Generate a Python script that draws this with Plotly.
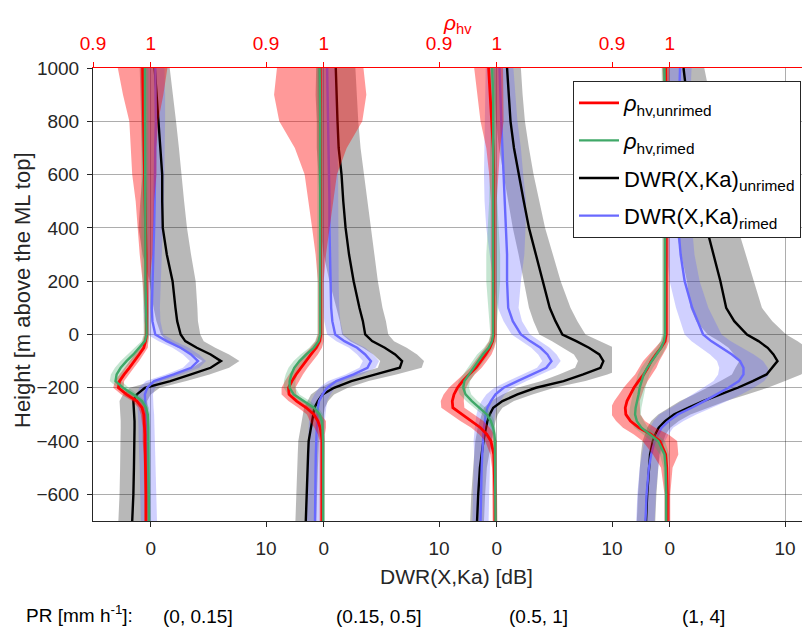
import plotly.graph_objects as go

# ---------------- data ----------------
H = [1000, 900, 800, 700, 600, 500, 400, 300, 200, 100, 50, 0, -25, -50, -75, -100,
     -125, -150, -175, -200, -225, -250, -275, -300, -325, -350, -375, -400, -450, -500, -600, -700]

PR_LABELS = ["(0, 0.15]", "(0.15, 0.5]", "(0.5, 1]", "(1, 4]"]

DWR_UNRIMED = [
    [0.35, 0.5, 0.7, 0.85, 1.0, 1.0, 1.05, 1.4, 1.9, 2.15, 2.3, 2.6, 3.0, 4.0, 5.2, 6.1,
     5.2, 3.5, 1.7, -0.5, -1.2, -1.5, -1.45, -1.4, -1.4, -1.4, -1.4, -1.4, -1.45, -1.45, -1.5, -1.6],
    [1.05, 1.1, 1.2, 1.3, 1.55, 1.7, 1.9, 2.2, 2.6, 3.1, 3.4, 3.6, 4.2, 5.3, 6.2, 6.8,
     6.6, 4.5, 2.4, 0.9, -0.1, -0.5, -0.8, -0.9, -1.0, -1.1, -1.2, -1.3, -1.35, -1.4, -1.5, -1.55],
    [0.9, 1.05, 1.2, 1.5, 1.9, 2.35, 2.8, 3.4, 3.95, 4.6, 5.1, 5.7, 6.9, 8.0, 8.9, 9.25,
     9.0, 7.5, 5.8, 3.4, 1.8, 0.5, -0.3, -0.6, -0.8, -0.95, -1.05, -1.15, -1.3, -1.45, -1.6, -1.7],
    [1.2, 1.45, 1.75, 2.1, 2.5, 2.85, 3.2, 3.8, 4.4, 4.9, 5.6, 6.7, 7.7, 8.5, 9.0, 9.35,
     8.9, 8.4, 7.2, 5.9, 4.4, 2.9, 1.6, 0.4, -0.4, -0.95, -1.25, -1.45, -1.7, -1.8, -1.95, -2.05],
]
DWR_UNRIMED_SPREAD = [
    [1.3, 1.4, 1.5, 1.6, 1.7, 1.9, 2.1, 2.1, 2.0, 1.9, 1.8, 1.7, 1.6, 1.6, 1.6, 1.6,
     1.6, 1.6, 1.4, 1.3, 1.2, 1.2, 1.2, 1.2, 1.2, 1.2, 1.2, 1.2, 1.2, 1.2, 1.2, 1.2],
    [1.7, 1.8, 1.8, 1.9, 2.0, 2.1, 2.2, 2.2, 2.1, 2.0, 2.0, 2.0, 1.9, 1.9, 1.9, 1.9,
     1.9, 1.8, 1.5, 1.2, 1.0, 0.9, 0.9, 0.9, 0.9, 0.9, 0.9, 0.9, 0.9, 0.9, 0.9, 0.9],
    [1.2, 1.2, 1.25, 1.3, 1.3, 1.35, 1.4, 1.5, 1.6, 1.8, 1.9, 2.0, 2.1, 2.2, 2.2, 2.2,
     2.2, 2.1, 1.9, 1.6, 1.3, 1.0, 0.8, 0.7, 0.7, 0.7, 0.7, 0.7, 0.65, 0.6, 0.6, 0.6],
    [1.8, 2.0, 2.2, 2.3, 2.5, 2.6, 2.7, 2.8, 2.9, 3.1, 3.3, 3.4, 3.4, 3.4, 3.4, 3.3,
     3.2, 3.0, 2.8, 2.6, 2.3, 2.0, 1.7, 1.4, 1.2, 1.0, 0.9, 0.9, 0.8, 0.8, 0.8, 0.8],
]
DWR_RIMED = [
    [0.4, 0.45, 0.45, 0.4, 0.4, 0.35, 0.3, 0.25, 0.17, 0.1, 0.15, 0.4, 1.4, 2.6, 3.5, 4.1,
     3.5, 2.0, 0.3, -0.3, -0.5, -0.5, -0.45, -0.4, -0.35, -0.35, -0.35, -0.35, -0.3, -0.25, -0.2, -0.15],
    [0.3, 0.35, 0.4, 0.4, 0.45, 0.5, 0.5, 0.55, 0.6, 0.65, 0.75, 1.0, 1.8, 2.9, 3.6, 4.1,
     3.8, 2.6, 1.1, 0.3, -0.1, -0.4, -0.5, -0.55, -0.6, -0.6, -0.62, -0.65, -0.68, -0.7, -0.72, -0.75],
    [0.25, 0.3, 0.4, 0.5, 0.6, 0.75, 0.8, 0.9, 0.9, 1.0, 1.4, 2.1, 2.9, 3.8, 4.4, 4.75,
     4.3, 3.0, 1.8, 0.6, -0.1, -0.5, -0.8, -0.95, -1.05, -1.1, -1.15, -1.2, -1.25, -1.3, -1.35, -1.4],
    [0.9, 0.8, 0.75, 0.7, 0.7, 0.75, 0.75, 0.95, 1.3, 1.95, 2.4, 2.9, 3.6, 4.5, 5.4, 6.1,
     6.4, 6.4, 6.0, 5.1, 4.1, 3.0, 1.9, 0.7, -0.1, -0.7, -1.0, -1.3, -1.6, -1.8, -2.0, -2.1],
]
DWR_RIMED_SPREAD = [
    [0.8, 0.8, 0.8, 0.8, 0.8, 0.8, 0.75, 0.7, 0.7, 0.7, 0.7, 0.7, 0.7, 0.7, 0.7, 0.7,
     0.7, 0.7, 0.7, 0.7, 0.7, 0.7, 0.7, 0.7, 0.7, 0.7, 0.7, 0.7, 0.7, 0.7, 0.7, 0.7],
    [0.8, 0.8, 0.8, 0.8, 0.8, 0.8, 0.75, 0.75, 0.7, 0.7, 0.7, 0.7, 0.7, 0.7, 0.7, 0.7,
     0.7, 0.7, 0.7, 0.7, 0.7, 0.7, 0.7, 0.7, 0.7, 0.7, 0.7, 0.7, 0.7, 0.7, 0.7, 0.7],
    [1.2, 1.3, 1.4, 1.6, 1.7, 1.8, 1.7, 1.5, 1.2, 0.9, 0.8, 0.8, 0.8, 0.8, 0.8, 0.8,
     0.8, 0.8, 0.8, 0.8, 0.8, 0.8, 0.8, 0.8, 0.8, 0.8, 0.8, 0.8, 0.7, 0.7, 0.7, 0.7],
    [1.0, 1.0, 1.1, 1.1, 1.2, 1.2, 1.2, 1.2, 1.3, 1.4, 1.5, 1.6, 1.7, 1.8, 1.9, 2.0,
     2.1, 2.2, 2.2, 2.2, 2.1, 2.0, 1.8, 1.6, 1.3, 1.0, 0.9, 0.9, 0.8, 0.8, 0.8, 0.8],
]
RHO_UNRIMED = [
    [0.986, 0.987, 0.988, 0.988, 0.989, 0.990, 0.991, 0.992, 0.992, 0.993, 0.993, 0.993, 0.991, 0.988, 0.980, 0.972,
     0.963, 0.954, 0.946, 0.944, 0.958, 0.976, 0.985, 0.988, 0.989, 0.990, 0.990, 0.990, 0.991, 0.991, 0.992, 0.992],
    [0.994, 0.994, 0.995, 0.995, 0.995, 0.995, 0.995, 0.995, 0.995, 0.995, 0.995, 0.995, 0.993, 0.987, 0.978, 0.969,
     0.960, 0.952, 0.945, 0.939, 0.940, 0.953, 0.970, 0.983, 0.990, 0.994, 0.996, 0.997, 0.997, 0.997, 0.997, 0.997],
    [0.986, 0.989, 0.992, 0.994, 0.995, 0.995, 0.995, 0.995, 0.995, 0.995, 0.995, 0.995, 0.993, 0.988, 0.981, 0.973,
     0.964, 0.952, 0.941, 0.932, 0.926, 0.923, 0.924, 0.940, 0.957, 0.972, 0.983, 0.990, 0.995, 0.996, 0.997, 0.997],
    [0.993, 0.994, 0.994, 0.994, 0.994, 0.994, 0.994, 0.994, 0.994, 0.994, 0.994, 0.994, 0.992, 0.985, 0.976, 0.968,
     0.962, 0.955, 0.946, 0.938, 0.932, 0.926, 0.923, 0.924, 0.932, 0.947, 0.968, 0.983, 0.993, 0.995, 0.996, 0.996],
]
RHO_UNRIMED_SPREAD = [
    [0.043, 0.035, 0.025, 0.022, 0.021, 0.016, 0.014, 0.011, 0.006, 0.004, 0.004, 0.004, 0.005, 0.007, 0.008, 0.008,
     0.008, 0.008, 0.008, 0.009, 0.009, 0.008, 0.006, 0.005, 0.004, 0.004, 0.004, 0.004, 0.003, 0.003, 0.003, 0.003],
    [0.075, 0.08, 0.072, 0.045, 0.028, 0.021, 0.015, 0.009, 0.005, 0.005, 0.005, 0.005, 0.007, 0.01, 0.012, 0.012,
     0.012, 0.012, 0.012, 0.012, 0.013, 0.014, 0.014, 0.012, 0.014, 0.01, 0.006, 0.004, 0.004, 0.004, 0.004, 0.004],
    [0.025, 0.022, 0.02, 0.012, 0.008, 0.005, 0.005, 0.005, 0.005, 0.005, 0.005, 0.005, 0.006, 0.008, 0.01, 0.01,
     0.01, 0.01, 0.012, 0.015, 0.018, 0.02, 0.02, 0.02, 0.02, 0.016, 0.013, 0.01, 0.006, 0.004, 0.004, 0.004],
    [0.006, 0.005, 0.005, 0.005, 0.005, 0.005, 0.005, 0.005, 0.005, 0.005, 0.005, 0.005, 0.007, 0.01, 0.012, 0.014,
     0.015, 0.015, 0.016, 0.018, 0.02, 0.022, 0.025, 0.025, 0.025, 0.028, 0.03, 0.03, 0.022, 0.01, 0.005, 0.005],
]
RHO_RIMED = [
    [0.990, 0.990, 0.990, 0.990, 0.990, 0.990, 0.990, 0.990, 0.991, 0.992, 0.993, 0.993, 0.990, 0.980, 0.970, 0.958,
     0.948, 0.941, 0.939, 0.952, 0.970, 0.985, 0.992, 0.995, 0.996, 0.996, 0.996, 0.996, 0.996, 0.996, 0.997, 0.997],
    [0.993, 0.994, 0.994, 0.994, 0.994, 0.994, 0.994, 0.994, 0.994, 0.994, 0.994, 0.994, 0.991, 0.983, 0.970, 0.958,
     0.949, 0.944, 0.941, 0.941, 0.948, 0.966, 0.983, 0.993, 0.997, 0.998, 0.999, 0.999, 0.999, 0.999, 0.999, 0.999],
    [0.992, 0.994, 0.994, 0.994, 0.994, 0.994, 0.994, 0.994, 0.994, 0.994, 0.994, 0.994, 0.992, 0.986, 0.976, 0.968,
     0.960, 0.951, 0.944, 0.942, 0.946, 0.957, 0.971, 0.983, 0.990, 0.994, 0.996, 0.997, 0.997, 0.997, 0.998, 0.998],
    [0.991, 0.992, 0.992, 0.992, 0.992, 0.992, 0.992, 0.992, 0.992, 0.992, 0.992, 0.992, 0.990, 0.985, 0.977, 0.969,
     0.961, 0.955, 0.951, 0.948, 0.946, 0.943, 0.941, 0.940, 0.943, 0.951, 0.966, 0.980, 0.991, 0.993, 0.994, 0.994],
]
RHO_RIMED_SPREAD = [
    [0.006, 0.006, 0.006, 0.006, 0.006, 0.006, 0.006, 0.006, 0.005, 0.005, 0.005, 0.005, 0.006, 0.008, 0.01, 0.01,
     0.01, 0.01, 0.01, 0.01, 0.008, 0.006, 0.005, 0.004, 0.003, 0.003, 0.003, 0.003, 0.003, 0.003, 0.003, 0.003],
    [0.005, 0.005, 0.005, 0.005, 0.005, 0.005, 0.005, 0.005, 0.005, 0.005, 0.005, 0.005, 0.006, 0.008, 0.01, 0.01,
     0.01, 0.01, 0.01, 0.01, 0.01, 0.01, 0.008, 0.006, 0.004, 0.003, 0.003, 0.003, 0.003, 0.003, 0.003, 0.003],
    [0.005, 0.005, 0.005, 0.005, 0.006, 0.007, 0.009, 0.012, 0.012, 0.008, 0.006, 0.005, 0.006, 0.008, 0.01, 0.01,
     0.01, 0.01, 0.01, 0.01, 0.01, 0.01, 0.01, 0.008, 0.006, 0.004, 0.003, 0.003, 0.003, 0.003, 0.003, 0.003],
    [0.005, 0.005, 0.005, 0.005, 0.005, 0.005, 0.005, 0.005, 0.005, 0.005, 0.005, 0.005, 0.006, 0.008, 0.01, 0.01,
     0.01, 0.01, 0.01, 0.01, 0.01, 0.01, 0.01, 0.01, 0.012, 0.012, 0.012, 0.012, 0.008, 0.004, 0.003, 0.003],
]

# ---------------- styling ----------------
FONT = "Liberation Sans, Arial, Helvetica, sans-serif"
AX_COLOR = "#262626"
GRID = "rgba(0,0,0,0.32)"
RED, RED_FILL = "rgb(255,0,0)", "rgba(255,0,0,0.4)"
GREEN, GREEN_FILL = "rgb(64,168,104)", "rgba(64,168,104,0.3)"
BLACK, GRAY_FILL = "rgb(0,0,0)", "rgba(0,0,0,0.28)"
BLUE, BLUE_FILL = "rgb(105,105,255)", "rgba(100,100,255,0.3)"

# the page body adds an 8 px offset; all target positions below are window pixels
OFF = 8
WIN_W, WIN_H = 810, 633
W, HGT = WIN_W - OFF, WIN_H - OFF
PLOT_LEFT, PLOT_TOP, PLOT_BOTTOM = 93, 68, 521
L, T = PLOT_LEFT - OFF, PLOT_TOP - OFF
B = WIN_H - PLOT_BOTTOM
R = 0
PANEL_PX = [93, 266, 439, 612, 810]   # panel edges (window pixels)
PX_PER_DB = 173 / 15.0
PX_PER_RHO = 173 / 0.3
plot_w = W - L - R
ph = HGT - T - B


def px2paper(xp, yp):
    return (xp - PLOT_LEFT) / plot_w, (PLOT_BOTTOM - yp) / ph


fig = go.Figure()


def band(x_mean, spread):
    lo = [m - s for m, s in zip(x_mean, spread)]
    hi = [m + s for m, s in zip(x_mean, spread)]
    return lo + hi[::-1], H + H[::-1]


series_dwr = [
    (DWR_UNRIMED, DWR_UNRIMED_SPREAD, BLACK, GRAY_FILL, "DWR(X,Ka)<sub>unrimed</sub>", 3, 2.4),
    (DWR_RIMED, DWR_RIMED_SPREAD, BLUE, BLUE_FILL, "DWR(X,Ka)<sub>rimed</sub>", 4, 2.4),
]
series_rho = [
    (RHO_UNRIMED, RHO_UNRIMED_SPREAD, RED, RED_FILL, "<i>ρ</i><sub>hv,unrimed</sub>", 1, 2.8),
    (RHO_RIMED, RHO_RIMED_SPREAD, GREEN, GREEN_FILL, "<i>ρ</i><sub>hv,rimed</sub>", 2, 2.4),
]

for p in range(4):
    xb = "x" if p == 0 else f"x{p + 1}"
    xt = f"x{p + 5}"
    for group, xa in ((series_dwr, xb), (series_rho, xt)):
        for vals, spr, lc, fc, name, rank, lw in group:
            bx, by = band(vals[p], spr[p])
            fig.add_trace(go.Scatter(x=bx, y=by, xaxis=xa, yaxis="y", fill="toself",
                                     fillcolor=fc, line=dict(width=0), mode="lines",
                                     hoverinfo="skip", showlegend=False))
        for vals, spr, lc, fc, name, rank, lw in group:
            fig.add_trace(go.Scatter(x=vals[p], y=H, xaxis=xa, yaxis="y", mode="lines",
                                     line=dict(color=lc, width=lw), name=name,
                                     legendgroup=f"g{rank}", legendrank=rank,
                                     showlegend=(p == 0)))

lx, ly = px2paper(573, 81)
layout = dict(
    width=W, height=HGT,
    margin=dict(l=L, r=R, t=T, b=B),
    paper_bgcolor="white", plot_bgcolor="white",
    font=dict(family=FONT, color=AX_COLOR, size=19),
    yaxis=dict(range=[-700, 1000], tickvals=[-600, -400, -200, 0, 200, 400, 600, 800, 1000],
               showgrid=True, gridcolor=GRID, gridwidth=1, zeroline=False,
               showline=True, linecolor=AX_COLOR, linewidth=1, ticks="outside",
               ticklen=5, tickcolor=AX_COLOR, tickfont=dict(size=19, color=AX_COLOR),
               ticklabelstandoff=4, anchor="x", automargin=False),
    legend=dict(x=lx, y=ly, xanchor="left", yanchor="top",
                bgcolor="white", bordercolor=AX_COLOR, borderwidth=1,
                font=dict(family=FONT, size=22, color="black"), itemwidth=40,
                tracegroupgap=6, traceorder="grouped"),
)

for p in range(4):
    d0 = (PANEL_PX[p] - PLOT_LEFT) / plot_w
    d1 = min(1.0, (PANEL_PX[p + 1] - PLOT_LEFT) / plot_w)
    width_px = PANEL_PX[p + 1] - PANEL_PX[p]
    db_max = -5 + width_px / PX_PER_DB
    rho_max = 0.9 + width_px / PX_PER_RHO
    kb = "xaxis" if p == 0 else f"xaxis{p + 1}"
    layout[kb] = dict(domain=[d0, d1], range=[-5, db_max], tickvals=[0, 10], ticktext=["0", "10"],
                      showgrid=True, gridcolor=GRID, gridwidth=1, zeroline=False,
                      showline=True, linecolor=AX_COLOR, linewidth=1, ticks="outside",
                      ticklen=5, tickcolor=AX_COLOR, anchor="y", automargin=False,
                      tickfont=dict(size=19, color=AX_COLOR), ticklabelstandoff=5)
    layout[f"xaxis{p + 5}"] = dict(domain=[d0, d1], range=[0.9, rho_max], tickvals=[0.9, 1.0],
                                   ticktext=["0.9", "1"], overlaying=("x" if p == 0 else f"x{p + 1}"),
                                   side="top", anchor="y", showgrid=False, zeroline=False,
                                   showline=True, linecolor=RED, linewidth=1, ticks="outside",
                                   ticklen=5, tickcolor=RED, tickfont=dict(size=19, color=RED),
                                   ticklabelstandoff=4, automargin=False)

fig.update_layout(**layout)

ann = []
ax_, ay_ = px2paper(457, 9)
ann.append(dict(text="<i>ρ</i><sub>hv</sub>", x=ax_, y=ay_, yanchor="top",
                font=dict(size=21, color=RED)))
ax_, ay_ = px2paper(456, 576)
ann.append(dict(text="DWR(X,Ka) [dB]", x=ax_, y=ay_, font=dict(size=21, color=AX_COLOR)))
ax_, ay_ = px2paper(22, 290)
ann.append(dict(text="Height [m above the ML top]", x=ax_, y=ay_, textangle=-90,
                font=dict(size=22, color=AX_COLOR)))
ax_, ay_ = px2paper(79, 614)
ann.append(dict(text="PR [mm h<sup>-1</sup>]:", x=ax_, y=ay_, font=dict(size=19, color="black")))
for lab, cx in zip(PR_LABELS, [198, 379, 538, 703]):
    ax_, ay_ = px2paper(cx, 616)
    ann.append(dict(text=lab, x=ax_, y=ay_, font=dict(size=19, color="black")))

for a in ann:
    a.setdefault("yanchor", "middle")
    a.update(xref="paper", yref="paper", showarrow=False, xanchor="center")
    a["font"]["family"] = FONT
fig.update_layout(annotations=ann)

fig.write_html("out.html")
